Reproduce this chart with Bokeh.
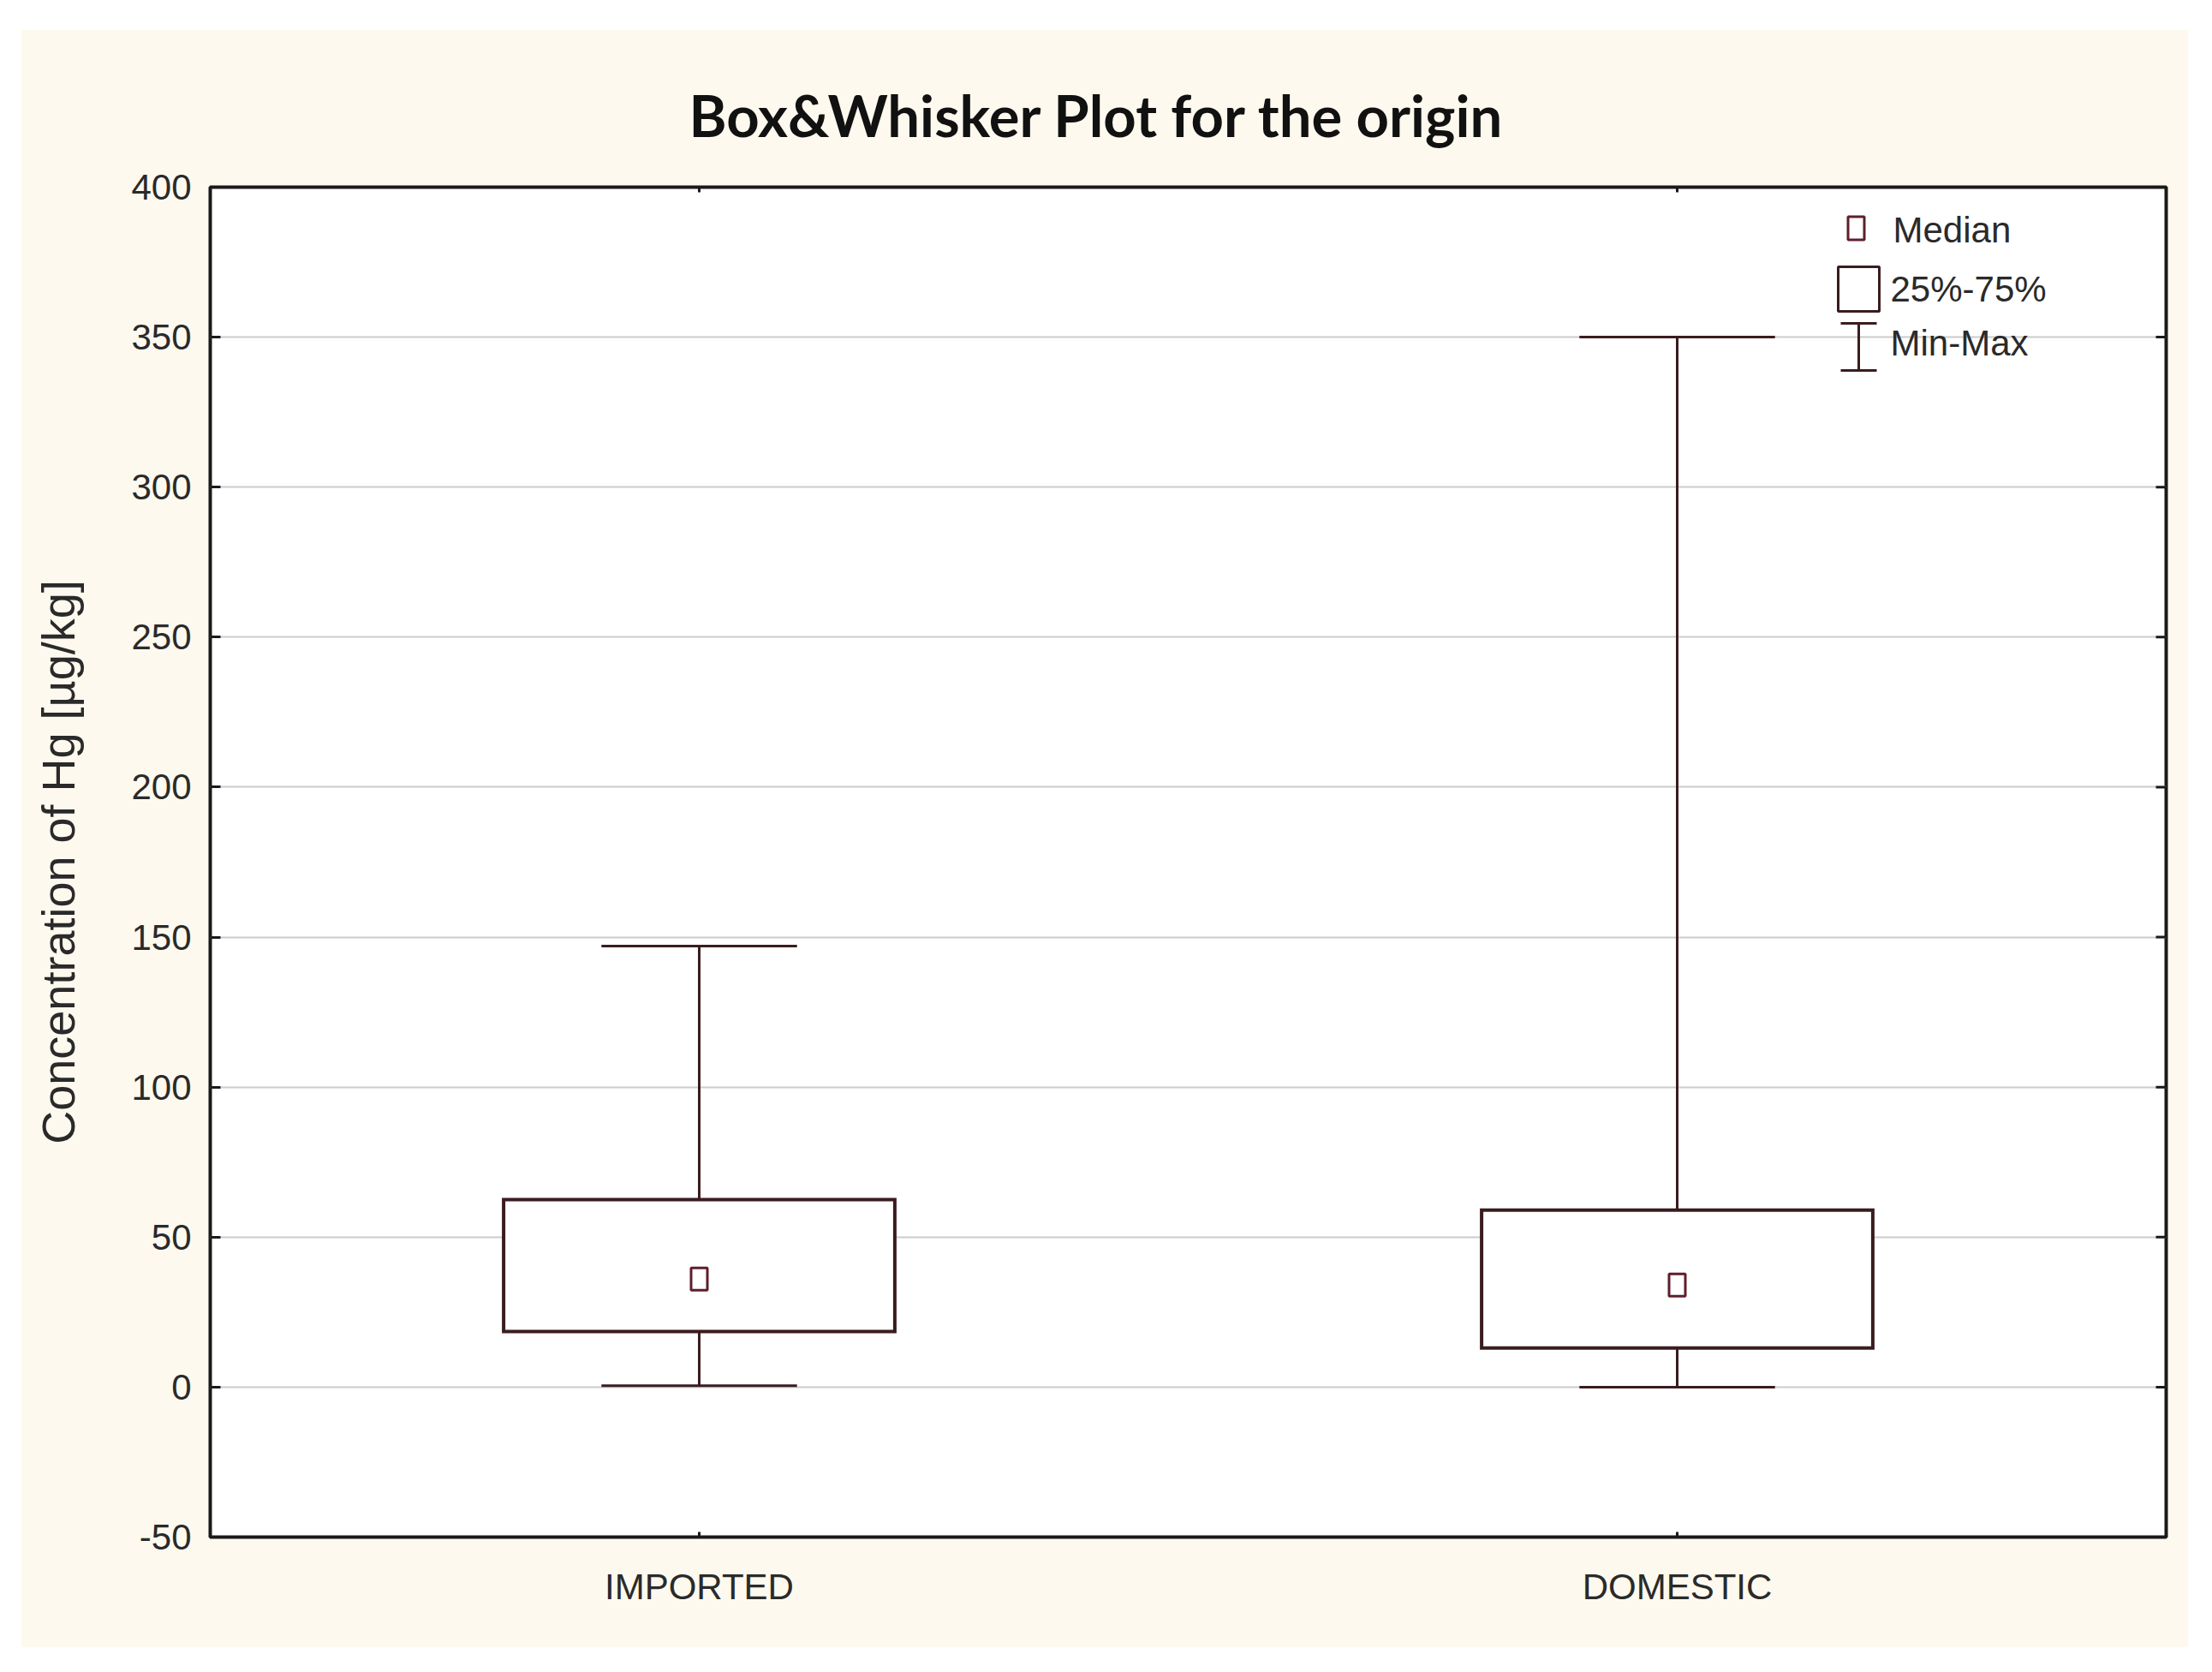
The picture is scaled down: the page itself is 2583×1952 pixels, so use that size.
import numpy as np
from bokeh.plotting import figure
from bokeh.models import FixedTicker, Range1d, BoxAnnotation, Label
from bokeh.embed import file_html
from bokeh.resources import INLINE

# ---------------- data ----------------
categories = ["IMPORTED", "DOMESTIC"]
mins = [0.5, 0.0]
q1 = [18.5, 13.0]
medians = [36.0, 34.0]
q3 = [62.5, 59.0]
maxs = [147.0, 350.0]
y_ticks = [-50, 0, 50, 100, 150, 200, 250, 300, 350, 400]
y_tick_labels = ["-50", "0", "50", "100", "150", "200", "250", "300", "350", "400"]
title_text = "Box&Whisker Plot for the origin"
y_label = "Concentration of Hg [\u00b5g/kg]"
legend_labels = ["Median", "25%-75%", "Min-Max"]

# ---------------- styles ----------------
CREAM = "#fdf9ee"
LINE = "#3a1c1f"
MED = "#5e1f2b"
TXT = "#2a2a2a"
FRAME = "#1a1a1a"
SANS = "Liberation Sans"

xs = np.arange(1, len(categories) + 1, dtype=float)
box_w = 0.4
cap_half = 0.1

p = figure(
    output_backend="svg", toolbar_location=None,
    frame_width=2284, frame_height=1576,
    min_border_left=221, min_border_right=26, min_border_top=184, min_border_bottom=129,
    x_range=Range1d(0.5, len(categories) + 0.5), y_range=Range1d(y_ticks[0], y_ticks[-1]),
    background_fill_color="white", border_fill_color=CREAM,
)
p.margin = (34, 0, 0, 24)

# title
p.title.text = title_text
p.title.align = "left"
p.title.offset = 559
p.title.text_font = "Lato"
p.title.text_font_style = "bold"
p.title.text_font_size = "67px"
p.title.text_color = "#111111"
p.title.standoff = 89

# frame
p.outline_line_color = FRAME
p.outline_line_width = 4

# grid
p.xgrid.grid_line_color = None
p.ygrid.grid_line_color = "#cccccc"
p.ygrid.grid_line_width = 2

# axes
p.yaxis.ticker = FixedTicker(ticks=y_ticks)
p.yaxis.major_label_overrides = {t: s for t, s in zip(y_ticks, y_tick_labels)}
p.xaxis.ticker = FixedTicker(ticks=list(xs))
p.xaxis.major_label_overrides = {float(x): c for x, c in zip(xs, categories)}
for ax in (p.xaxis[0], p.yaxis[0]):
    ax.axis_line_color = None
    ax.major_tick_out = 0
    ax.minor_tick_line_color = None
    ax.major_tick_line_color = FRAME
    ax.major_tick_line_width = 3
    ax.major_label_text_font = SANS
    ax.major_label_text_font_size = "42px"
    ax.major_label_text_color = TXT
p.yaxis.major_tick_in = 12
p.yaxis.major_label_standoff = 22
p.xaxis.major_tick_in = 6
p.xaxis.major_label_standoff = 34
p.yaxis.axis_label = y_label
p.yaxis.axis_label_text_font = SANS
p.yaxis.axis_label_text_font_style = "normal"
p.yaxis.axis_label_text_font_size = "54px"
p.yaxis.axis_label_text_color = TXT
p.yaxis.axis_label_standoff = 52

# inward ticks on the right and top edges (clipped to the frame)
p.scatter(x=[p.x_range.end] * len(y_ticks), y=y_ticks, marker="dash", size=24,
          line_color=FRAME, line_width=3)
p.scatter(x=xs, y=[p.y_range.end] * len(xs), marker="dash", angle=np.pi / 2, size=12,
          line_color=FRAME, line_width=3)

# whiskers
p.segment(x0=xs, y0=q3, x1=xs, y1=maxs, line_color=LINE, line_width=3)
p.segment(x0=xs, y0=mins, x1=xs, y1=q1, line_color=LINE, line_width=3)
p.segment(x0=xs - cap_half, y0=maxs, x1=xs + cap_half, y1=maxs, line_color=LINE, line_width=3)
p.segment(x0=xs - cap_half, y0=mins, x1=xs + cap_half, y1=mins, line_color=LINE, line_width=3)
# boxes
p.vbar(x=xs, width=box_w, bottom=q1, top=q3, fill_color="white", line_color=LINE,
       line_width=4, line_join="miter")
# medians
p.rect(x=xs, y=medians, width=19, height=26, width_units="screen", height_units="screen",
       fill_color=None, line_color=MED, line_width=3)

# ---------------- legend (screen units, frame-relative) ----------------
def sbox(l, r, b, t, **kw):
    return BoxAnnotation(left=l, right=r, bottom=b, top=t,
                         left_units="screen", right_units="screen",
                         bottom_units="screen", top_units="screen", **kw)

p.add_layout(sbox(1912.5, 1931.5, 1514.5, 1541.5, fill_color=None, line_color=MED,
                  line_width=3, line_alpha=1))
p.add_layout(sbox(1901, 1949, 1431, 1483, fill_color=None, line_color=LINE,
                  line_width=3, line_alpha=1))
for (l, r, b, t) in [(1923.5, 1926.5, 1362, 1417), (1904, 1946, 1415.5, 1418.5),
                     (1904, 1946, 1360.5, 1363.5)]:
    p.add_layout(sbox(l, r, b, t, fill_color=LINE, fill_alpha=1, line_color=None))
for txt, lx, ly in zip(legend_labels, [1965, 1962, 1962], [1526, 1457, 1394]):
    p.add_layout(Label(x=lx, y=ly, x_units="screen", y_units="screen", text=txt,
                       text_font=SANS, text_font_size="42px", text_color=TXT,
                       text_baseline="middle", text_align="left"))

open("out.html", "w").write(file_html(p, INLINE))
